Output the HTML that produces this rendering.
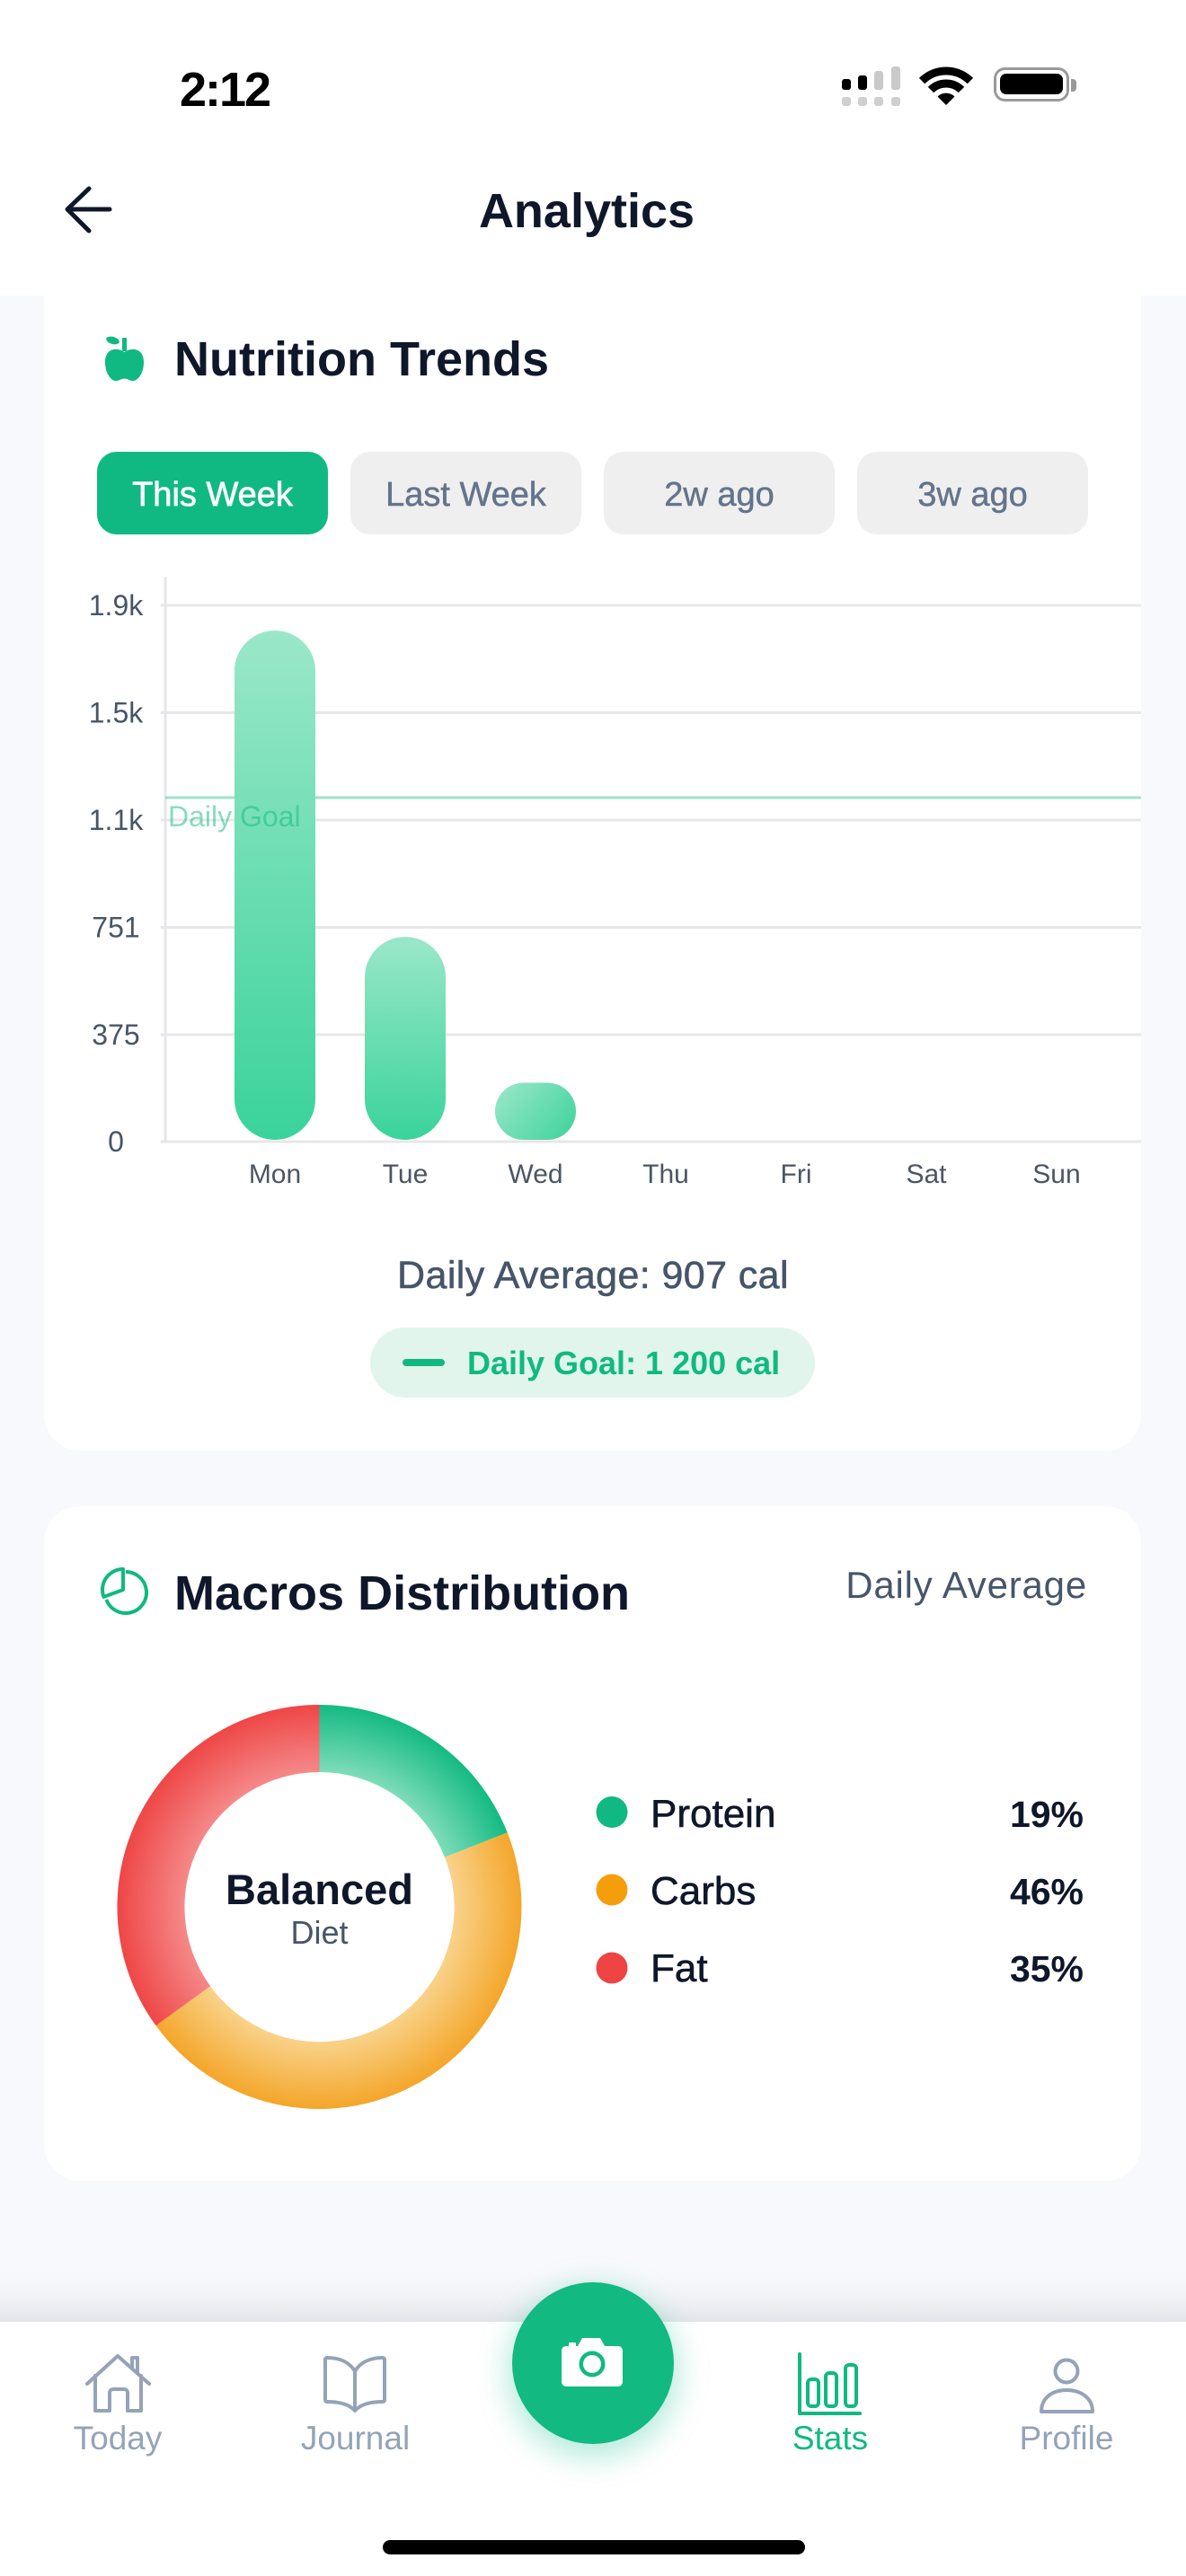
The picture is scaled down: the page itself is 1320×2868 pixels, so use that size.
<!DOCTYPE html>
<html>
<head>
<meta charset="utf-8">
<style>
  html,body{margin:0;padding:0;background:#f8f9fc;}
  body{width:1320px;height:2868px;overflow:hidden;}
  svg{display:block;}
  text{font-family:"Liberation Sans", Arial, sans-serif;}
</style>
</head>
<body>
<svg width="1320" height="2868" viewBox="0 0 1320 2868" xmlns="http://www.w3.org/2000/svg">
  <defs>
    <linearGradient id="barV" x1="0" y1="0" x2="0" y2="1">
      <stop offset="0" stop-color="#9ae7c9"/>
      <stop offset="1" stop-color="#3ad39b"/>
    </linearGradient>
    <linearGradient id="barH" x1="0" y1="0.2" x2="1" y2="0.8">
      <stop offset="0" stop-color="#96e6c7"/>
      <stop offset="1" stop-color="#43d49e"/>
    </linearGradient>
    <radialGradient id="gP" gradientUnits="userSpaceOnUse" cx="355.5" cy="2123" r="225">
      <stop offset="0.66" stop-color="#80ddba"/>
      <stop offset="1" stop-color="#14ba83"/>
    </radialGradient>
    <radialGradient id="gC" gradientUnits="userSpaceOnUse" cx="355.5" cy="2123" r="225">
      <stop offset="0.66" stop-color="#f9d38c"/>
      <stop offset="1" stop-color="#f4a62a"/>
    </radialGradient>
    <radialGradient id="gF" gradientUnits="userSpaceOnUse" cx="355.5" cy="2123" r="225">
      <stop offset="0.66" stop-color="#f58a8a"/>
      <stop offset="1" stop-color="#ef4646"/>
    </radialGradient>
    <linearGradient id="navShadow" x1="0" y1="0" x2="0" y2="1">
      <stop offset="0" stop-color="#f8f9fc" stop-opacity="0"/>
      <stop offset="1" stop-color="#e3e4e9"/>
    </linearGradient>
    <filter id="glow" x="-50%" y="-50%" width="200%" height="200%">
      <feGaussianBlur stdDeviation="16"/>
    </filter>
  </defs>

  <rect x="0" y="0" width="1320" height="2868" fill="#f8f9fc"/>

  <rect x="49" y="290" width="1221" height="1325" rx="40" fill="#ffffff"/>
  <rect x="49" y="1677" width="1221" height="751" rx="40" fill="#ffffff"/>

  <rect x="0" y="0" width="1320" height="329" fill="#ffffff"/>

  <text x="200" y="118" font-size="54" font-weight="bold" letter-spacing="-2" fill="#000">2:12</text>
  <g>
    <rect x="937" y="88" width="10" height="12" rx="3" fill="#000"/>
    <rect x="955" y="84" width="10" height="16" rx="3" fill="#000"/>
    <rect x="973" y="79" width="10" height="21" rx="3" fill="#c9c9c9"/>
    <rect x="992" y="74" width="10" height="26" rx="3" fill="#c9c9c9"/>
    <rect x="937" y="108" width="10" height="10" rx="3" fill="#cfcfcf"/>
    <rect x="955" y="108" width="10" height="10" rx="3" fill="#cfcfcf"/>
    <rect x="973" y="108" width="10" height="10" rx="3" fill="#cfcfcf"/>
    <rect x="992" y="108" width="10" height="10" rx="3" fill="#cfcfcf"/>
  </g>
  <g fill="none" stroke="#000" stroke-width="9">
    <path d="M1026.1 90.1 A38 38 0 0 1 1079.9 90.1"/>
    <path d="M1036 100 A24 24 0 0 1 1070 100"/>
  </g>
  <path d="M1053 117 L1043.5 107.5 A13.5 13.5 0 0 1 1062.5 107.5 Z" fill="#000"/>
  <rect x="1107.5" y="76.5" width="81" height="35" rx="11" fill="none" stroke="#9a9a9a" stroke-width="3"/>
  <rect x="1113" y="82" width="70" height="23" rx="7" fill="#000"/>
  <path d="M1192 88 h2 a4 4 0 0 1 4 4 v6 a4 4 0 0 1 -4 4 h-2 z" fill="#9a9a9a"/>

  <path d="M122 233 H77 M99 210 L75 233 L99 257" fill="none" stroke="#0f172a" stroke-width="5" stroke-linecap="round" stroke-linejoin="round"/>
  <text x="653" y="253" font-size="54" font-weight="bold" fill="#0f172a" text-anchor="middle">Analytics</text>

  <g fill="#10b981">
    <path d="M138.5 392 C130 386 117 388 117 403 C117 415 123 424 129 424 C133 424 135 421.5 138.5 421.5 C142 421.5 144 424 148 424 C154 424 160 415 160 403 C160 388 147 386 138.5 392 Z"/>
    <rect x="136" y="376" width="5" height="15" rx="1"/>
    <ellipse cx="125.5" cy="379" rx="7.5" ry="4" transform="rotate(15 125.5 379)"/>
  </g>
  <text x="194" y="418" font-size="54" font-weight="bold" fill="#0f172a">Nutrition Trends</text>

  <rect x="108" y="503" width="257" height="92" rx="22" fill="#10b981"/>
  <rect x="390" y="503" width="257" height="92" rx="22" fill="#efeff0"/>
  <rect x="672" y="503" width="257" height="92" rx="22" fill="#efeff0"/>
  <rect x="954" y="503" width="257" height="92" rx="22" fill="#efeff0"/>
  <text x="236.5" y="563" font-size="38" fill="#ffffff" stroke="#ffffff" stroke-width="0.7" text-anchor="middle">This Week</text>
  <text x="518.5" y="563" font-size="38" fill="#64748b" stroke="#64748b" stroke-width="0.5" text-anchor="middle">Last Week</text>
  <text x="800.5" y="563" font-size="38" fill="#64748b" stroke="#64748b" stroke-width="0.5" text-anchor="middle">2w ago</text>
  <text x="1082.5" y="563" font-size="38" fill="#64748b" stroke="#64748b" stroke-width="0.5" text-anchor="middle">3w ago</text>

  <g stroke="#e7e7ea" stroke-width="3">
    <line x1="179" y1="674" x2="1270" y2="674"/>
    <line x1="179" y1="793.5" x2="1270" y2="793.5"/>
    <line x1="179" y1="913" x2="1270" y2="913"/>
    <line x1="179" y1="1032.5" x2="1270" y2="1032.5"/>
    <line x1="179" y1="1152" x2="1270" y2="1152"/>
    <line x1="179" y1="1271" x2="1270" y2="1271"/>
    <line x1="184" y1="642" x2="184" y2="1272"/>
  </g>
  <line x1="184" y1="888" x2="1270" y2="888" stroke="#10b981" stroke-opacity="0.4" stroke-width="3"/>

  <g font-size="32" fill="#475569" text-anchor="middle">
    <text x="129" y="685">1.9k</text>
    <text x="129" y="804.5">1.5k</text>
    <text x="129" y="924">1.1k</text>
    <text x="129" y="1043.5">751</text>
    <text x="129" y="1163">375</text>
    <text x="129" y="1282">0</text>
  </g>

  <rect x="261" y="702" width="90" height="567" rx="45" fill="url(#barV)"/>
  <rect x="406" y="1043" width="90" height="226" rx="45" fill="url(#barV)"/>
  <rect x="551" y="1205.5" width="90" height="63.5" rx="31.75" fill="url(#barH)"/>

  <text x="187" y="920" font-size="32" fill="#10b981" fill-opacity="0.5">Daily Goal</text>

  <g font-size="30" fill="#4b5563" text-anchor="middle">
    <text x="306" y="1317">Mon</text>
    <text x="451" y="1317">Tue</text>
    <text x="596" y="1317">Wed</text>
    <text x="741" y="1317">Thu</text>
    <text x="886" y="1317">Fri</text>
    <text x="1031" y="1317">Sat</text>
    <text x="1176" y="1317">Sun</text>
  </g>

  <text x="660" y="1434" font-size="43" letter-spacing="0.4" fill="#475569" stroke="#475569" stroke-width="0.6" text-anchor="middle">Daily Average: 907 cal</text>

  <rect x="412" y="1478" width="495" height="78" rx="39" fill="#e1f5ed"/>
  <line x1="452" y1="1517" x2="491" y2="1517" stroke="#10b981" stroke-width="8" stroke-linecap="round"/>
  <text x="520" y="1530" font-size="36" font-weight="bold" fill="#10b981">Daily Goal: 1 200 cal</text>

  <g fill="none" stroke="#10b981" stroke-width="4" stroke-linejoin="round">
    <path d="M140 1750 A23 23 0 1 1 118.4 1780.9"/>
    <path d="M137 1770 L137 1747 A23 23 0 0 0 115.4 1777.9 Z"/>
  </g>
  <text x="194" y="1792" font-size="54" font-weight="bold" fill="#0f172a">Macros Distribution</text>
  <text x="1210" y="1779" font-size="42" letter-spacing="0.8" fill="#475569" text-anchor="end">Daily Average</text>

  <path d="M355.5 1898 A225 225 0 0 1 564.7 2040.2 L495 2067.8 A150 150 0 0 0 355.5 1973 Z" fill="url(#gP)"/>
  <path d="M564.7 2040.2 A225 225 0 0 1 173.5 2255.3 L234.1 2211.2 A150 150 0 0 0 495 2067.8 Z" fill="url(#gC)"/>
  <path d="M173.5 2255.3 A225 225 0 0 1 355.5 1898 L355.5 1973 A150 150 0 0 0 234.1 2211.2 Z" fill="url(#gF)"/>
  <text x="355.5" y="2120" font-size="47" font-weight="bold" fill="#0f172a" text-anchor="middle">Balanced</text>
  <text x="355.5" y="2164" font-size="36" fill="#475569" text-anchor="middle">Diet</text>

  <circle cx="681" cy="2017.5" r="17.5" fill="#10b981"/>
  <circle cx="681" cy="2104" r="17.5" fill="#f59e0b"/>
  <circle cx="681" cy="2191" r="17.5" fill="#ef4444"/>
  <g font-size="44" fill="#0f172a" stroke="#0f172a" stroke-width="0.6">
    <text x="724" y="2034">Protein</text>
    <text x="724" y="2120">Carbs</text>
    <text x="724" y="2206">Fat</text>
  </g>
  <g font-size="41" font-weight="bold" fill="#0f172a" text-anchor="end">
    <text x="1206" y="2034">19%</text>
    <text x="1206" y="2120">46%</text>
    <text x="1206" y="2206">35%</text>
  </g>

  <rect x="0" y="2520" width="1320" height="65" fill="url(#navShadow)"/>
  <rect x="0" y="2585" width="1320" height="283" fill="#ffffff"/>

  <circle cx="660" cy="2641" r="96" fill="#10b981" fill-opacity="0.28" filter="url(#glow)"/>
  <circle cx="660" cy="2631" r="90" fill="#12b981"/>
  <g fill="#ffffff">
    <path d="M630 2612 H643 L648 2603 H668 L673 2612 H688 a5 5 0 0 1 5 5 V2652 a5 5 0 0 1 -5 5 H630 a5 5 0 0 1 -5 -5 V2617 a5 5 0 0 1 5 -5 Z"/>
    <rect x="633" y="2608" width="8" height="6" rx="1.5"/>
  </g>
  <circle cx="659" cy="2632" r="14.5" fill="#12b981"/>
  <circle cx="659" cy="2632" r="10" fill="#ffffff"/>

  <g fill="none" stroke="#94a3b8" stroke-width="4" stroke-linecap="round" stroke-linejoin="round">
    <path d="M97 2654 L131 2623 L166 2654"/>
    <path d="M147 2636 V2625 H153 V2642"/>
    <path d="M106 2645 V2684 H122 V2664 a4 4 0 0 1 4 -4 H138 a4 4 0 0 1 4 4 V2684 H157 V2645"/>
  </g>
  <g fill="none" stroke="#94a3b8" stroke-width="4" stroke-linejoin="round">
    <path d="M395 2640 C389 2630 378 2625 364 2625 a2 2 0 0 0 -2 2 V2672 a2 2 0 0 0 2 2 C378 2674 389 2677 395 2684 C401 2677 412 2674 426 2674 a2 2 0 0 0 2 -2 V2627 a2 2 0 0 0 -2 -2 C412 2625 401 2630 395 2640 Z"/>
    <path d="M395 2640 V2682"/>
  </g>
  <g fill="none" stroke="#10b981" stroke-width="4" stroke-linecap="round" stroke-linejoin="round">
    <path d="M890 2621 V2687 H957"/>
    <rect x="899" y="2649" width="12" height="30" rx="4"/>
    <rect x="919" y="2642" width="12" height="37" rx="4"/>
    <rect x="941" y="2633" width="12" height="46" rx="4"/>
  </g>
  <g fill="none" stroke="#94a3b8" stroke-width="4" stroke-linejoin="round">
    <circle cx="1187" cy="2640" r="12.5"/>
    <path d="M1159 2685 C1159 2669 1172 2661 1187 2661 C1202 2661 1216 2669 1216 2685 Z"/>
  </g>

  <g font-size="37" text-anchor="middle">
    <text x="131" y="2727" fill="#94a3b8">Today</text>
    <text x="395.5" y="2727" fill="#94a3b8">Journal</text>
    <text x="924" y="2727" fill="#10b981">Stats</text>
    <text x="1187" y="2727" fill="#94a3b8">Profile</text>
  </g>

  <rect x="426" y="2828" width="470" height="16" rx="8" fill="#000"/>
</svg>
</body>
</html>
